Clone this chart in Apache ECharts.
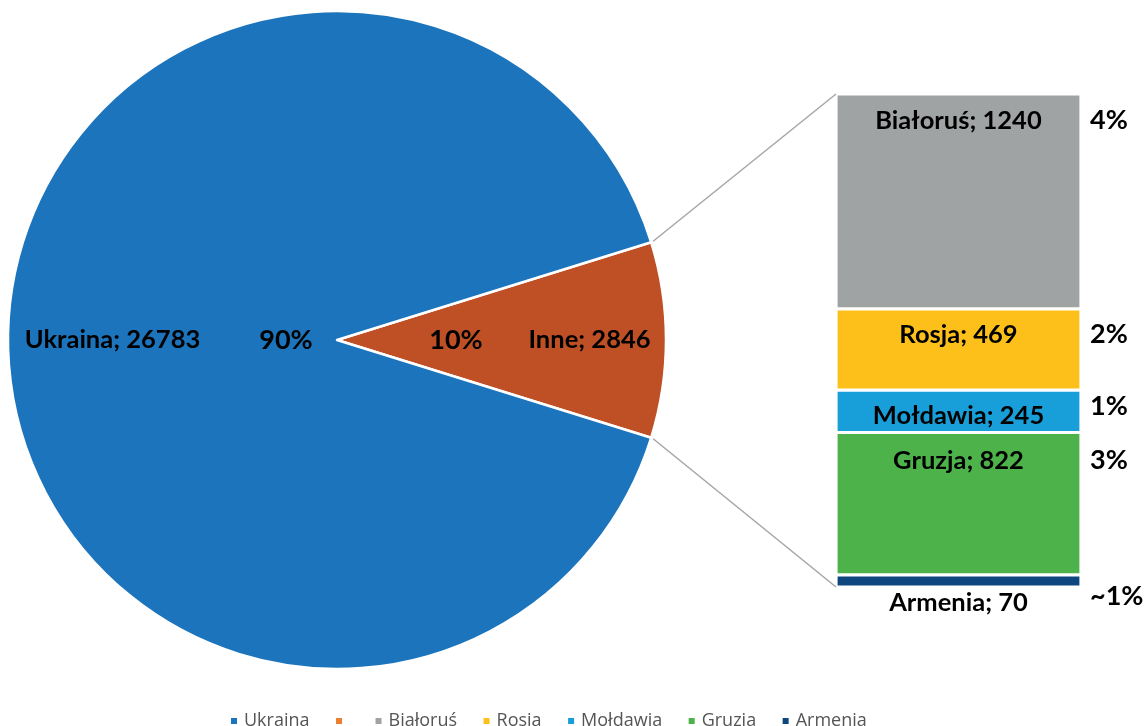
<!DOCTYPE html>
<html>
<head>
<meta charset="utf-8">
<script src="https://cdn.jsdelivr.net/npm/echarts@6/dist/echarts.min.js"></script>
<style>
  html, body { margin: 0; padding: 0; background: #ffffff; }
  #chart { width: 1145px; height: 726px; }
</style>
</head>
<body>
<div id="chart"></div>
<script>
// Pie: Ukraina versus the remaining countries grouped as "Inne"
const pieNames = ['Ukraina', 'Inne'];
const pieValues = [26783, 2846];
const piePercents = ['90%', '10%'];

// Breakdown of "Inne" shown in the stacked column
const barNames = ['Białoruś', 'Rosja', 'Mołdawia', 'Gruzja', 'Armenia'];
const barValues = [1240, 469, 245, 822, 70];
const barPercents = ['4%', '2%', '1%', '3%', '~1%'];

// Legend entries (the "Inne" entry carries no text)
const legendNames = ['Ukraina', '\u200b', 'Białoruś', 'Rosja', 'Mołdawia', 'Gruzja', 'Armenia'];

// ---- styling ----
const FONT = 'Lato, "Noto Sans", sans-serif';
const pieColors = ['#1c75bc', '#bf5026'];
const pieLegendColors = ['#1c75bc', '#ed7d31'];
const barColors = ['#a0a3a4', '#fdc01b', '#189fd9', '#4eb24a', '#0e4680'];
const PIE_CX = 337, PIE_CY = 340, PIE_R = 329;

const chart = echarts.init(document.getElementById('chart'), null, { renderer: 'canvas' });

const pieTotal = pieValues[0] + pieValues[1];
const inneHalfAngle = 360 * pieValues[1] / pieTotal / 2;
// Inne goes first so that it sits symmetric around the 3 o'clock direction
const pieOrder = [1, 0];
const barTotal = barValues.reduce((a, b) => a + b, 0);

function pieData(prefix) {
  return pieOrder.map(i => ({
    name: prefix ? prefix + i : (i === 0 ? legendNames[0] : legendNames[1]),
    value: pieValues[i],
    idx: i,
    itemStyle: { color: pieColors[i] }
  }));
}

const nameLabel = { color: '#000', fontFamily: FONT, fontWeight: 'bold', fontSize: 25.5 };
const pctLabel = { color: '#000', fontFamily: FONT, fontWeight: 'bold', fontSize: 27 };

const series = [
  {
    type: 'pie',
    name: 'pie',
    center: [PIE_CX, PIE_CY],
    radius: [0, PIE_R],
    startAngle: inneHalfAngle,
    clockwise: true,
    data: pieData(null),
    itemStyle: { borderColor: '#fff', borderWidth: 2.5 },
    label: { show: false },
    labelLine: { show: false },
    emphasis: { disabled: true },
    silent: true,
    z: 2
  },
  // transparent ring used only to place the "name; value" labels
  {
    type: 'pie',
    center: [PIE_CX, PIE_CY],
    radius: [142, PIE_R],
    startAngle: inneHalfAngle,
    data: pieData('n').map(d => Object.assign(d, { itemStyle: { color: 'rgba(0,0,0,0)' } })),
    itemStyle: { borderWidth: 0 },
    label: Object.assign({
      show: true, position: 'inside', offset: [14, 0],
      formatter: p => pieNames[p.data.idx] + '; ' + pieValues[p.data.idx]
    }, nameLabel),
    labelLine: { show: false },
    emphasis: { disabled: true },
    silent: true,
    z: 3
  },
  // transparent disc used only to place the percentage labels
  {
    type: 'pie',
    center: [PIE_CX, PIE_CY],
    radius: [0, 164],
    startAngle: inneHalfAngle,
    data: pieData('p').map(d => Object.assign(d, { itemStyle: { color: 'rgba(0,0,0,0)' } })),
    itemStyle: { borderWidth: 0 },
    label: Object.assign({
      show: true, position: 'inside', offset: [34, 0],
      formatter: p => piePercents[p.data.idx]
    }, pctLabel),
    labelLine: { show: false },
    emphasis: { disabled: true },
    silent: true,
    z: 3
  }
];

// label placement inside / below each column segment
const nameLabelPos = ['insideTop', 'insideTop', 'inside', 'insideTop', 'bottom'];
const nameLabelDist = [14, 13, 0, 15, 3];
const nameLabelOffset = [[0, 0], [0, 0], [0, 5], [0, 0], [0, 0]];
const pctLabelY = [13, 12, 3, 14, 8];

barNames.forEach((name, i) => {
  series.push({
    type: 'bar',
    name: name,
    stack: 'inne',
    barWidth: '100%',
    xAxisIndex: 0, yAxisIndex: 0,
    data: [barValues[i]],
    itemStyle: { color: barColors[i], borderColor: '#fff', borderWidth: 1.6 },
    label: Object.assign({
      show: true,
      position: nameLabelPos[i],
      distance: nameLabelDist[i],
      offset: nameLabelOffset[i],
      formatter: () => name + '; ' + barValues[i]
    }, nameLabel),
    emphasis: { disabled: true },
    silent: true,
    z: 2
  });
});
// transparent twin stack carrying the percentage labels right of the column
barNames.forEach((name, i) => {
  series.push({
    type: 'bar',
    name: 'pct' + i,
    stack: 'pct',
    barWidth: '100%',
    barGap: '-100%',
    data: [barValues[i]],
    itemStyle: { color: 'rgba(0,0,0,0)' },
    label: Object.assign({
      show: true,
      position: [254, pctLabelY[i]],
      formatter: () => barPercents[i]
    }, pctLabel),
    emphasis: { disabled: true },
    silent: true,
    z: 3
  });
});

const legendData = legendNames.map((n, i) => {
  if (i < 2) return { name: n, itemStyle: { color: pieLegendColors[i] } };
  return { name: n, itemStyle: { color: barColors[i - 2] } };
});

chart.setOption({
  animation: false,
  backgroundColor: '#ffffff',
  textStyle: { fontFamily: FONT },
  legend: {
    data: legendData,
    left: 224,
    top: 707,
    icon: 'rect',
    itemWidth: 8,
    itemHeight: 8,
    itemGap: 24.5,
    selectedMode: false,
    textStyle: { color: '#555555', fontSize: 18, fontFamily: '"Open Sans", sans-serif', padding: [0, 0, 0, 1] }
  },
  grid: { left: 836, right: 64, top: 94, bottom: 139 },
  xAxis: { type: 'category', data: ['Inne'], show: false },
  yAxis: { type: 'value', min: 0, max: barTotal, inverse: true, show: false },
  series: series
});

// connector lines from the edges of the "Inne" slice to the column corners
const rad = inneHalfAngle * Math.PI / 180;
const topEdge = [PIE_CX + PIE_R * Math.cos(rad), PIE_CY - PIE_R * Math.sin(rad)];
const botEdge = [PIE_CX + PIE_R * Math.cos(rad), PIE_CY + PIE_R * Math.sin(rad)];
const colTop = chart.convertToPixel({ gridIndex: 0 }, ['Inne', 0]);
const colBot = chart.convertToPixel({ gridIndex: 0 }, ['Inne', barTotal]);
const gridRect = chart.getModel().getComponent('grid').coordinateSystem.getRect();
const lineStyle = { stroke: '#a6a6a6', lineWidth: 1.5 };
chart.setOption({
  graphic: [
    { type: 'line', silent: true, z: 1, shape: { x1: topEdge[0] + 2, y1: topEdge[1] - 1, x2: gridRect.x, y2: colTop[1] }, style: lineStyle },
    { type: 'line', silent: true, z: 1, shape: { x1: botEdge[0] + 2, y1: botEdge[1] + 1, x2: gridRect.x, y2: colBot[1] }, style: lineStyle }
  ]
});
</script>
</body>
</html>
